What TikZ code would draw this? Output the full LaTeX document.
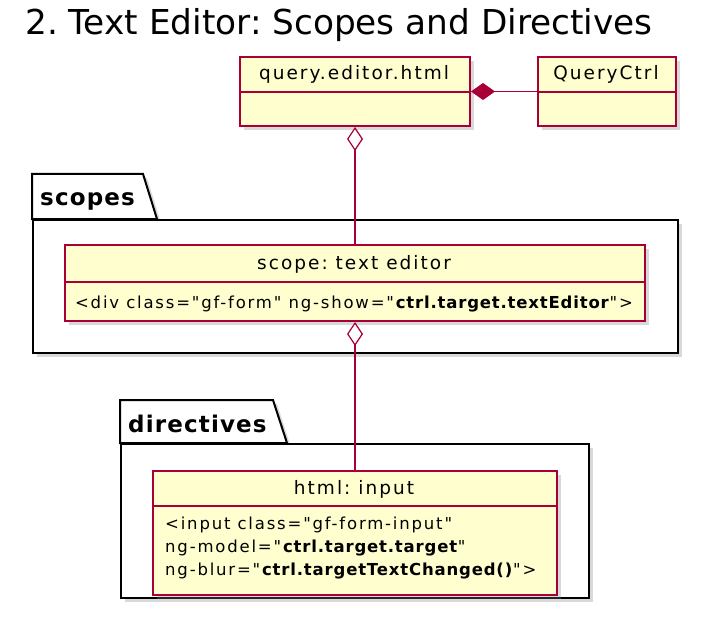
\documentclass[tikz,border=0pt]{standalone}
\usepackage{fontspec}
\setmainfont{DejaVu Sans}[Ligatures=TeXOff,LetterSpace=11,BoldFeatures={LetterSpace=5}]
\newfontfamily\titlefont{DejaVu Sans}
\usepackage{xcolor}
\definecolor{Crimson}{HTML}{A80036}
\definecolor{PaleYellow}{HTML}{FEFECE}
\usepackage{tikz}
\usetikzlibrary{positioning,shadows,arrows.meta}
\frenchspacing

\begin{document}
\begin{tikzpicture}[x=1pt,y=-1pt,
 classbox/.style={rectangle,draw=Crimson,line width=2pt,fill=PaleYellow,inner sep=0pt,
   drop shadow={shadow xshift=4pt,shadow yshift=-4pt,opacity=0.3}},
 pkgbox/.style={rectangle,draw=black,line width=2pt,fill=white,inner sep=0pt,
   drop shadow={shadow xshift=4pt,shadow yshift=-4pt,opacity=0.3}},
 pkgtab/.style={draw=black,line width=2pt,fill=white,
   drop shadow={shadow xshift=4pt,shadow yshift=-4pt,opacity=0.3}},
 divider/.style={draw=Crimson,line width=1.8pt},
 classname/.style={anchor=base,inner sep=0pt,font=\fontsize{18.5}{22}\selectfont},
 member/.style={inner sep=0pt,font=\fontsize{16.5}{23}\selectfont},
 pkgname/.style={anchor=base west,inner sep=0pt,font=\bfseries\fontsize{23}{28}\selectfont},
 assoc/.style={draw=Crimson,line width=1.2pt}]
\useasboundingbox (0,0) rectangle (708,636);
\node[anchor=base west,inner sep=0pt,font=\titlefont\fontsize{34.3}{40}\selectfont] (title) at (25,35) {2. Text Editor: Scopes and Directives};

% packages
\draw[pkgtab] (32,219) -- ++(0,-45) -- ++(111,0) -- ++(14,45) -- cycle;
\node[pkgbox,anchor=north west,minimum width=645pt,minimum height=133pt] (scopes) at (32,219) {};
\node[pkgname] (scopesLabel) at (40,205) {scopes};
\draw[pkgtab] (120,443) -- ++(0,-43) -- ++(153,0) -- ++(14,43) -- cycle;
\node[pkgbox,anchor=north west,minimum width=468pt,minimum height=154pt] (directives) at (120,443) {};
\node[pkgname] (directivesLabel) at (128,432) {directives};

% classes
\node[classbox,anchor=north west,minimum width=230pt,minimum height=69pt] (editor) at (239,56) {};
\draw[divider] (editor.west |- 0,92) -- (editor.east |- 0,92);
\node[classname] (editorName) at (354,80) {query.editor.html};
\node[classbox,anchor=north west,minimum width=138pt,minimum height=69pt] (ctrl) at (537,56) {};
\draw[divider] (ctrl.west |- 0,92) -- (ctrl.east |- 0,92);
\node[classname] (ctrlName) at (606,80) {QueryCtrl};

\node[classbox,anchor=north west,minimum width=580pt,minimum height=76pt] (scope) at (64,244) {};
\draw[divider] (scope.west |- 0,282) -- (scope.east |- 0,282);
\node[classname] (scopeName) at (354,269) {scope: text editor};
\node[member,anchor=base] (scopeBody) at (354,308) {<div class="gf-form" ng-show="\textbf{ctrl.target.textEditor}">};

\node[classbox,anchor=north west,minimum width=404pt,minimum height=124pt] (input) at (152,470) {};
\draw[divider] (input.west |- 0,506) -- (input.east |- 0,506);
\node[classname] (inputName) at (354,494) {html: input};
\node[member,anchor=north west,align=left] (inputBody) at (165,517) {<input class="gf-form-input"\\
 ng-model="\textbf{ctrl.target.target}"\\
 ng-blur="\textbf{ctrl.targetTextChanged()}">};

% relations
\draw[assoc,{Diamond[length=24pt,width=17pt]}-] (editor.east) -- (ctrl.west);
\draw[assoc,{Diamond[open,length=24pt,width=16pt,fill=white]}-] (editor.south) -- (scope.north);
\draw[assoc,{Diamond[open,length=24pt,width=16pt,fill=white]}-] (scope.south) -- (input.north);
\end{tikzpicture}
\end{document}
